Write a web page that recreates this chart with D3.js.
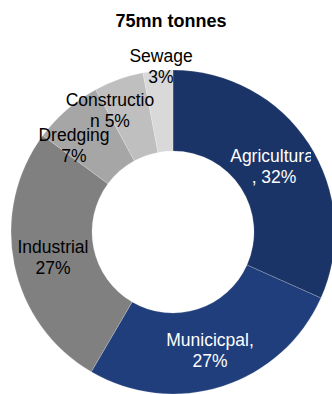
<!DOCTYPE html>
<html>
<head>
<meta charset="utf-8">
<script src="https://cdn.jsdelivr.net/npm/d3@7"></script>
<style>
  html, body { margin: 0; padding: 0; background: #fff; }
  svg { display: block; }
  text { font-family: "Liberation Sans", Arial, sans-serif; }
</style>
</head>
<body>
<svg id="chart" width="332" height="394"></svg>
<script>
// Sources of the 75mn tonnes total
const categories = ["Agricultural", "Municipal", "Industrial", "Dredging", "Construction", "Sewage"];
const shares = [32, 27, 27, 7, 5, 3];
const colors = ["#1b3467", "#203e7b", "#808080", "#a6a6a6", "#bfbfbf", "#d9d9d9"];
// Label lines as they wrap inside each slice's label box
const labelLines = [
  ["Agricultural", ", 32%"],
  ["Municicpal,", "27%"],
  ["Industrial", "27%"],
  ["Dredging", "7%"],
  ["Constructio", "n 5%"],
  ["Sewage", "3%"]
];
const titleText = "75mn tonnes";

const svg = d3.select("#chart");
const cx = 173, cy = 232, outerR = 162, innerR = 81;

svg.append("text")
  .attr("x", 171).attr("y", 27)
  .attr("text-anchor", "middle")
  .attr("font-size", 18).attr("font-weight", "bold")
  .attr("fill", "#000")
  .text(titleText);

const pie = d3.pie().sort(null).value(d => d.v);
const arcs = pie(shares.map((v, i) => ({ v, name: categories[i], i })));
const arc = d3.arc().innerRadius(innerR).outerRadius(outerR);

const g = svg.append("g").attr("transform", `translate(${cx},${cy})`);
g.selectAll("path.slice")
  .data(arcs)
  .join("path")
  .attr("class", "slice")
  .attr("d", arc)
  .attr("fill", d => colors[d.data.i])
  .attr("stroke", "#ffffff")
  .attr("stroke-opacity", 0.25)
  .attr("stroke-width", 0.75);

// Label boxes sit where the data-label layout placed them (centre x, first baseline)
const labelCenters = [
  [274, 162], [210, 346], [53, 253], [74, 141], [110, 106], [161, 62]
];
const lineH = 21;

// The label area ends short of the right edge, cutting the long first label
svg.append("clipPath").attr("id", "plotClip")
  .append("rect").attr("x", 0).attr("y", 0).attr("width", 311).attr("height", 394);

const labels = svg.append("g").attr("clip-path", "url(#plotClip)");
labelLines.forEach((lines, i) => {
  const t = labels.append("text")
    .attr("text-anchor", "middle")
    .attr("font-size", 17.5)
    .attr("fill", i < 2 ? "#ffffff" : "#000000");
  lines.forEach((ln, k) => {
    t.append("tspan")
      .attr("x", labelCenters[i][0])
      .attr("y", labelCenters[i][1] + k * lineH)
      .text(ln);
  });
});
</script>
</body>
</html>
